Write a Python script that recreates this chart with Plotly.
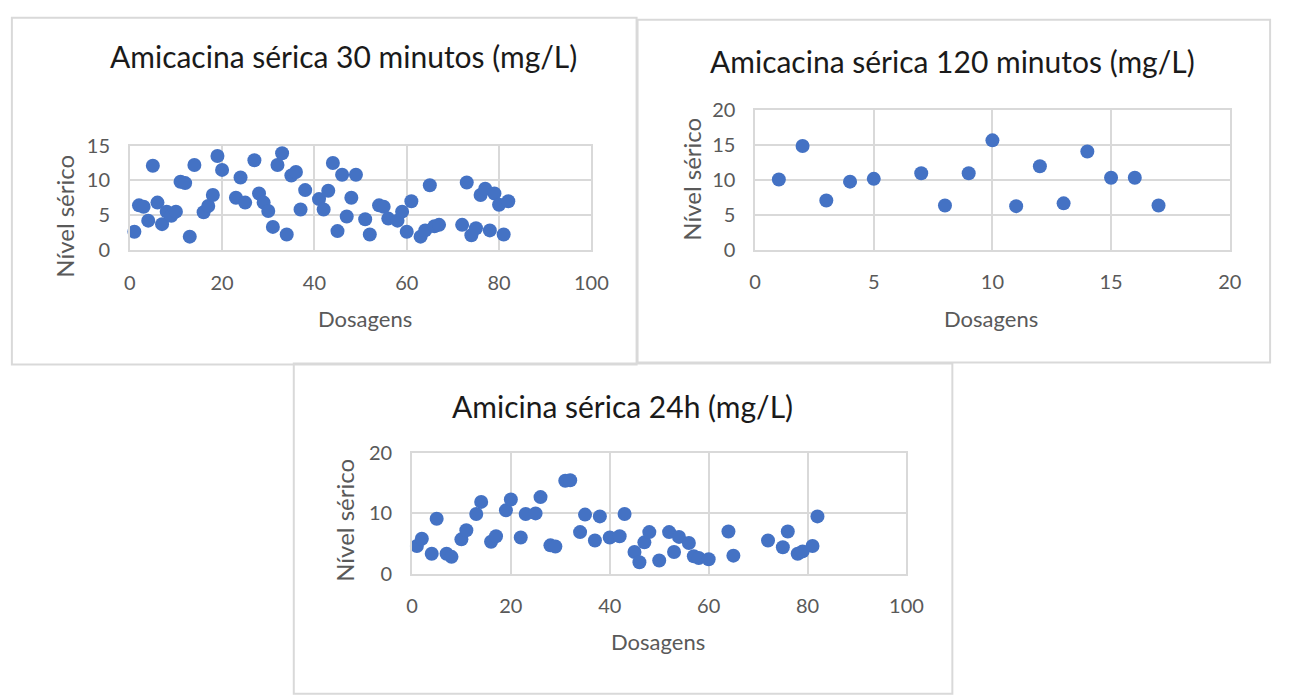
import plotly.graph_objects as go

W, H = 1292, 698

# ---- Data ----
x30 = [1, 2, 3, 4, 5, 6, 7, 8, 9, 10, 11, 12, 13, 14, 16, 17, 18, 19, 20, 23, 24, 25, 27, 28, 29, 30,
       31, 32, 33, 34, 35, 36, 37, 38, 41, 42, 43, 44, 45, 46, 47, 48, 49, 51, 52, 54, 55, 56, 58, 59,
       60, 61, 63, 64, 65, 66, 67, 72, 73, 74, 75, 76, 77, 78, 79, 80, 81, 82]
y30 = [2.6, 6.4, 6.2, 4.2, 12.1, 6.8, 3.7, 5.5, 4.9, 5.5, 9.8, 9.6, 1.9, 12.2, 5.4, 6.3, 7.9, 13.5, 11.5,
       7.5, 10.4, 6.8, 12.9, 8.1, 6.8, 5.6, 3.3, 12.2, 13.9, 2.2, 10.7, 11.2, 5.8, 8.6, 7.3, 5.8, 8.5,
       12.5, 2.7, 10.8, 4.8, 7.5, 10.8, 4.4, 2.2, 6.4, 6.2, 4.5, 4.2, 5.5, 2.6, 7.0, 1.9, 2.8, 9.3,
       3.4, 3.6, 3.6, 9.7, 2.1, 3.1, 7.9, 8.8, 2.8, 8.1, 6.5, 2.2, 7.0]

x120 = [1, 2, 3, 4, 5, 7, 8, 9, 10, 11, 12, 13, 14, 15, 16, 17]
y120 = [10.0, 14.8, 7.0, 9.7, 10.1, 10.9, 6.3, 10.9, 15.6, 6.2, 11.9, 6.6, 14.0, 10.25, 10.25, 6.3]

x24 = [1, 2, 4, 5, 7, 8, 10, 11, 13, 14, 16, 17, 19, 20, 22, 23, 25, 26, 28, 29, 31, 32, 34, 35, 37,
       38, 40, 42, 43, 45, 46, 47, 48, 50, 52, 53, 54, 56, 57, 58, 60, 64, 65, 72, 75, 76, 78, 79,
       81, 82]
y24 = [4.6, 5.8, 3.3, 9.1, 3.3, 2.8, 5.7, 7.2, 9.9, 11.9, 5.3, 6.2, 10.5, 12.3, 6.0, 9.9, 10.0, 12.7,
       4.7, 4.5, 15.4, 15.5, 6.9, 9.8, 5.5, 9.5, 6.0, 6.2, 9.9, 3.6, 1.9, 5.2, 6.9, 2.2, 6.9, 3.6,
       6.1, 5.1, 2.9, 2.6, 2.4, 7.0, 3.0, 5.5, 4.4, 7.0, 3.3, 3.7, 4.6, 9.5]

titles = ["Amicacina sérica 30 minutos (mg/L)", "Amicacina sérica 120 minutos (mg/L)", "Amicina sérica 24h (mg/L)"]
xtitle = "Dosagens"
ytitle = "Nível sérico"

FONT = "Lato"
BLUE = "#4472C4"
GRID = "#d9d9d9"
GRAY = "#595959"

def px(x):
    return x / W

def py(y):
    return 1 - y / H

# plot areas in pixels: (left, right, top, bottom)
areas = [(126, 596, 137.3, 245.3), (762.7, 1245.9, 100, 245), (413.3, 916.8, 455.7, 580.7)]
xr = [[0, 100], [0, 20], [0, 100]]
yr = [[0, 15], [0, 20], [0, 20]]
xd = [20, 5, 20]
yd = [5, 5, 10]

fig = go.Figure()
datasets = [(x30, y30), (x120, y120), (x24, y24)]
for i, (xs, ys) in enumerate(datasets):
    sfx = "" if i == 0 else str(i + 1)
    fig.add_trace(go.Scatter(x=xs, y=ys, mode="markers", xaxis="x" + sfx, yaxis="y" + sfx,
                             marker=dict(size=14, color=BLUE, line=dict(width=0)),
                             cliponaxis=False, showlegend=False, hoverinfo="skip"))
    l, r, t, b = areas[i]
    common = dict(showgrid=True, gridcolor=GRID, gridwidth=1.5, zeroline=False,
                  showline=True, linecolor=GRID, linewidth=1.5, mirror=True,
                  tickfont=dict(family=FONT, size=20, color=GRAY), ticks="", fixedrange=True)
    fig.layout["xaxis" + sfx] = dict(domain=[px(l), px(r)], range=xr[i], dtick=xd[i], tick0=0,
                                     anchor="y" + sfx, ticklabelstandoff=14, **common)
    fig.layout["yaxis" + sfx] = dict(domain=[py(b), py(t)], range=yr[i], dtick=yd[i], tick0=0,
                                     anchor="x" + sfx, ticklabelstandoff=14, **common)

annotations = []
title_pos = [(344, 45), (964, 50), (628, 407)]
xt_pos = [(366, 316), (1003, 316), (664, 651)]
yt_pos = [(60, 210), (697, 172), (345, 525)]
for i in range(3):
    annotations.append(dict(text=titles[i], x=px(title_pos[i][0]), y=py(title_pos[i][1]), xref="paper", yref="paper",
                            showarrow=False, xanchor="center", yanchor="middle",
                            font=dict(family=FONT, size=30, color="#1a1a1a")))
    annotations.append(dict(text=xtitle, x=px(xt_pos[i][0]), y=py(xt_pos[i][1]), xref="paper", yref="paper",
                            showarrow=False, xanchor="center", yanchor="middle",
                            font=dict(family=FONT, size=22, color=GRAY)))
    annotations.append(dict(text=ytitle, x=px(yt_pos[i][0]), y=py(yt_pos[i][1]), xref="paper", yref="paper",
                            showarrow=False, xanchor="center", yanchor="middle", textangle=-90,
                            font=dict(family=FONT, size=24, color=GRAY)))

shapes = []
boxes = [(6, 642, 5, 364), (643, 1287, 7, 362), (293, 963.5, 363, 705)]
for (l, r, t, b) in boxes:
    shapes.append(dict(type="rect", xref="paper", yref="paper", x0=px(l), x1=px(r), y0=py(b), y1=py(t),
                       line=dict(color=GRID, width=2), fillcolor="rgba(0,0,0,0)", layer="below"))

fig.update_layout(width=W, height=H, margin=dict(l=0, r=0, t=0, b=0),
                  paper_bgcolor="white", plot_bgcolor="white",
                  annotations=annotations, shapes=shapes)

fig.write_html("out.html", config={"displayModeBar": False, "responsive": False},
               post_script="document.body.style.margin='0';document.body.style.overflow='hidden';")
